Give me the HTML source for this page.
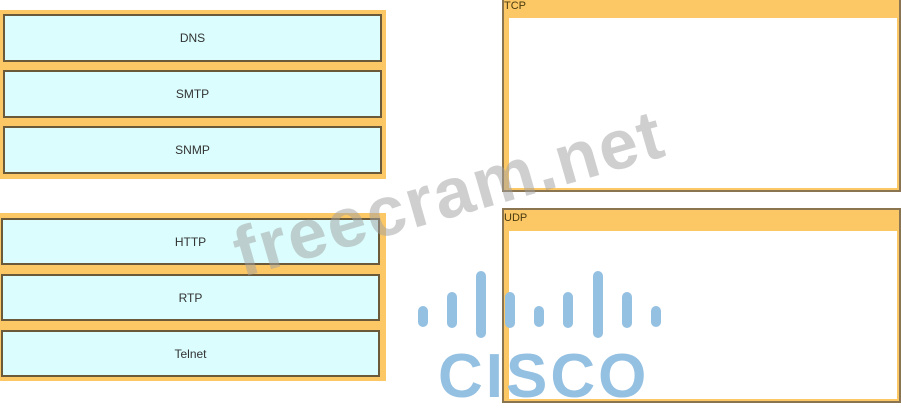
<!DOCTYPE html>
<html><head><style>
body{margin:0;width:901px;height:403px;background:#fff;position:relative;overflow:hidden;font-family:"Liberation Sans",sans-serif}
.grp{position:absolute;background:#fcc865}
.b{position:absolute;background:#dbfdfd;border:2px solid #6b5a3a;box-sizing:border-box;font-size:12px;color:#333;display:flex;align-items:center;justify-content:center}
.pan{position:absolute;background:#fcc865;border:2px solid #8a7550;box-sizing:border-box}
.pan .in{position:absolute;left:5px;right:2px;bottom:2px;background:#fff}
.pan .t{position:absolute;left:0;top:0;font-size:11px;color:#4a3a10}
.bar{position:absolute;width:10px;background:#94c0e2;border-radius:5px}
</style></head><body>
<div class="grp" style="left:0;top:10px;width:386px;height:169px"></div>
<div class="b" style="left:3px;top:14px;width:379px;height:48px">DNS</div>
<div class="b" style="left:3px;top:70px;width:379px;height:48px">SMTP</div>
<div class="b" style="left:3px;top:126px;width:379px;height:48px">SNMP</div>
<div class="grp" style="left:0;top:213px;width:386px;height:168px"></div>
<div class="b" style="left:1px;top:218px;width:379px;height:47px">HTTP</div>
<div class="b" style="left:1px;top:274px;width:379px;height:47px">RTP</div>
<div class="b" style="left:1px;top:330px;width:379px;height:47px">Telnet</div>
<div class="pan" style="left:502px;top:-2px;width:399px;height:194px"><div class="in" style="top:18px"></div><div class="t">TCP</div></div>
<div class="pan" style="left:502px;top:208px;width:399px;height:195px"><div class="in" style="top:21px"></div><div class="t" style="top:2px">UDP</div></div>
<div style="position:absolute;left:245px;top:218px;font-size:70px;font-weight:bold;color:rgba(160,160,160,0.5);transform:rotate(-16deg);transform-origin:0 100%;white-space:nowrap;letter-spacing:2px;line-height:1">freecram.net</div>
<div class="bar" style="left:418px;top:306px;height:21px"></div>
<div class="bar" style="left:447px;top:292px;height:36px"></div>
<div class="bar" style="left:476px;top:271px;height:67px"></div>
<div class="bar" style="left:505px;top:292px;height:36px"></div>
<div class="bar" style="left:534px;top:306px;height:21px"></div>
<div class="bar" style="left:563px;top:292px;height:36px"></div>
<div class="bar" style="left:593px;top:271px;height:67px"></div>
<div class="bar" style="left:622px;top:292px;height:36px"></div>
<div class="bar" style="left:651px;top:306px;height:21px"></div>
<div style="position:absolute;left:438px;top:346px;font-size:62px;font-weight:bold;color:#94c0e2;letter-spacing:3px;line-height:1">CISCO</div>
</body></html>
